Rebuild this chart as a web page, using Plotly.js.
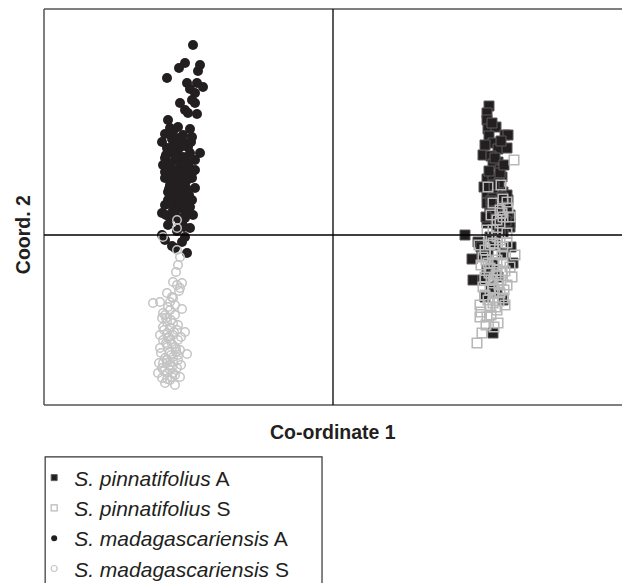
<!DOCTYPE html>
<html>
<head>
<meta charset="utf-8">
<script src="https://cdn.plot.ly/plotly-3.0.1.min.js"></script>
<style>html,body{margin:0;padding:0;background:#fff;}#chart{width:622px;height:583px;}</style>
</head>
<body>
<div id="chart"></div>
<script>
// Series names (legend)
var seriesNames = [
  "<i>S. pinnatifolius</i> A",
  "<i>S. pinnatifolius</i> S",
  "<i>S. madagascariensis</i> A",
  "<i>S. madagascariensis</i> S"
];
var xTitle = "Co-ordinate 1";
var yTitle = "Coord. 2";

// S. pinnatifolius A (filled squares)
var pinA_x = [1.56,1.54,1.54,1.55,1.63,1.56,1.72,1.75,1.60,1.65,1.74,1.50,1.58,1.65,1.60,1.67,1.54,1.60,1.69,1.57,1.64,1.54,1.70,1.60,1.75,1.57,1.65,1.72,1.62,1.77,1.67,1.74,1.54,1.74,1.57,1.75,1.54,1.64,1.77,1.70,1.32,1.57,1.45,1.67,1.77,1.55,1.70,1.80,1.39,1.54,1.65,1.40,1.50,1.64,1.52,1.70,1.60,1.48,1.62,1.78,
              1.59,1.68,1.52,1.62,1.71,1.56,1.66,1.61,1.51,1.69,1.58,1.73,1.63,1.53,1.67,1.60,1.49,1.58];
var pinA_y = [1.29,1.22,1.15,1.06,1.08,0.99,1.00,1.00,0.92,0.86,0.87,0.80,0.79,0.73,0.71,0.65,0.56,0.58,0.58,0.48,0.45,0.42,0.43,0.37,0.35,0.28,0.30,0.25,0.22,0.20,0.62,0.40,0.32,0.28,0.22,0.18,0.12,0.10,0.08,0.03,0.00,-0.02,-0.07,0.05,0.12,-0.18,-0.18,-0.28,-0.24,-0.35,-0.42,-0.45,-0.45,-0.58,-0.62,-0.65,-0.98,-0.12,-0.10,-0.12,
              1.12,0.94,0.90,0.77,0.70,0.64,0.52,0.50,0.48,0.38,0.34,0.14,0.16,0.18,0.02,-0.30,-0.20,-0.52];

// S. pinnatifolius S (open squares)
var pinS_x = [1.81,1.55,1.68,1.70,1.60,1.67,1.75,1.74,1.69,1.64,1.67,1.60,1.74,1.58,1.70,1.77,1.54,1.67,1.60,1.74,1.50,1.64,1.77,1.57,1.69,1.79,1.60,1.57,1.67,1.60,1.70,1.47,1.57,1.64,1.47,1.54,1.65,1.49,1.44,1.52,1.62,1.55,1.70,1.63,1.52,1.74,1.58,1.66,1.50,1.72,1.60,1.52,1.48,1.82,1.58,1.70,1.46,
              1.53,1.61,1.69,1.56,1.64,1.72,1.52,1.60,1.68,1.55,1.63,1.48,1.58,1.66,1.53,1.61,1.71,1.57,1.64];
var pinS_y = [0.75,0.48,0.50,0.36,0.32,0.25,0.27,0.33,0.22,0.15,0.12,0.05,0.02,0.20,0.18,0.18,0.05,-0.05,-0.08,-0.08,-0.22,-0.25,-0.32,-0.33,-0.38,-0.42,-0.48,-0.55,-0.58,-0.63,-0.63,-0.70,-0.72,-0.75,-0.82,-0.82,-0.88,-0.98,-1.08,-0.15,-0.18,-0.28,-0.28,-0.40,-0.42,-0.50,-0.45,-0.50,-0.52,-0.70,-0.68,-0.60,-0.30,-0.20,-0.05,-0.12,-0.10,
              -0.25,-0.28,-0.20,-0.38,-0.35,-0.36,-0.45,-0.53,-0.45,-0.65,-0.72,-0.77,-0.80,-0.66,-0.90,-0.92,-0.55,-0.10,-0.02];

// S. madagascariensis A (filled circles)
var madA_x = [-1.40,-1.48,-1.54,-1.33,-1.35,-1.66,-1.46,-1.36,-1.30,-1.43,-1.38,-1.41,-1.53,-1.38,-1.48,-1.45,-1.36,-1.65,-1.55,-1.43,-1.60,-1.68,-1.41,-1.53,-1.61,-1.71,-1.48,-1.56,-1.66,-1.65,-1.55,-1.43,-1.33,-1.61,-1.68,-1.56,-1.48,-1.63,-1.51,-1.41,-1.68,-1.58,-1.68,-1.41,-1.55,-1.38,-1.65,-1.51,-1.41,-1.46,-1.68,-1.55,-1.71,-1.48,-1.55,-1.48,-1.43,-1.71,-1.48,-1.51,-1.61,-1.46,-1.68,-1.58,-1.58,-1.50,-1.63,-1.45,-1.55,-1.47,-1.61,-1.48,-1.58,-1.53,-1.61,-1.45,-1.57,-1.63,-1.51,-1.65,-1.53,-1.60,-1.43,-1.51,-1.38,-1.70,-1.57,-1.45,-1.50,-1.63,-1.38,-1.51,-1.58,-1.65,
              -1.60,-1.50,-1.42,-1.67,-1.57,-1.47,-1.62,-1.52,-1.44,-1.66,-1.56,-1.46,-1.60,-1.50,-1.64,-1.54,-1.44,-1.59,-1.49,-1.62,-1.52,-1.57,-1.47,-1.67,-1.40,-1.58,-1.53,-1.63,-1.49,-1.56];
var madA_y = [1.90,1.72,1.67,1.70,1.64,1.57,1.52,1.52,1.48,1.46,1.42,1.35,1.32,1.32,1.25,1.22,1.21,1.15,1.08,1.06,1.03,1.01,0.98,0.97,0.96,0.93,0.92,0.90,0.87,0.85,0.85,0.82,0.82,0.82,0.77,0.75,0.73,0.68,0.67,0.62,0.63,0.60,0.57,0.57,0.53,0.47,0.43,0.40,0.35,0.33,0.30,0.27,0.22,0.23,0.17,0.17,0.07,0.00,-0.02,-0.07,-0.11,-0.18,-0.05,-0.13,0.80,0.78,0.72,0.70,0.65,0.60,0.55,0.50,0.47,0.43,0.38,0.45,0.35,0.50,0.57,0.35,0.30,0.25,0.28,0.70,0.65,0.70,0.95,0.88,1.00,1.07,0.75,0.13,0.23,0.10,
              0.90,0.89,0.93,0.80,0.78,0.76,0.70,0.69,0.68,0.62,0.64,0.55,0.52,0.51,0.46,0.45,0.40,0.40,0.37,0.33,0.32,0.28,0.25,0.20,0.20,0.19,0.12,0.17,0.08,0.04];

// S. madagascariensis S (open circles)
var madS_x = [-1.56,-1.56,-1.70,-1.56,-1.53,-1.55,-1.60,-1.56,-1.51,-1.53,-1.66,-1.61,-1.80,-1.73,-1.63,-1.60,-1.63,-1.51,-1.70,-1.71,-1.66,-1.60,-1.70,-1.63,-1.56,-1.73,-1.66,-1.60,-1.48,-1.70,-1.63,-1.55,-1.66,-1.58,-1.73,-1.53,-1.63,-1.46,-1.68,-1.60,-1.55,-1.66,-1.61,-1.71,-1.56,-1.75,-1.66,-1.60,-1.53,-1.71,-1.63,-1.58,-1.68,-1.57,-1.67,-1.58,-1.65,-1.57,-1.70,-1.63,
              -1.65,-1.58,-1.68,-1.62,-1.55,-1.69,-1.59,-1.64,-1.52,-1.67,-1.61,-1.57,-1.72,-1.62,-1.55,-1.66,-1.60,-1.52,-1.69,-1.63,-1.58,-1.74,-1.61,-1.66,-1.54];
var madS_y = [0.15,0.07,-0.02,-0.15,-0.22,-0.30,-0.47,-0.50,-0.48,-0.53,-0.58,-0.62,-0.68,-0.67,-0.67,-0.63,-0.75,-0.74,-0.78,-0.83,-0.87,-0.88,-0.92,-0.93,-0.95,-1.00,-0.98,-1.00,-0.97,-1.05,-1.05,-1.05,-1.10,-1.12,-1.13,-1.15,-1.17,-1.19,-1.23,-1.22,-1.25,-1.28,-1.32,-1.33,-1.33,-1.38,-1.38,-1.38,-1.42,-1.43,-1.45,-1.50,-1.48,-0.37,-0.83,-0.80,-1.03,-1.17,-1.28,-1.30,
              -0.72,-0.70,-0.80,-0.85,-0.90,-0.95,-0.97,-1.02,-1.02,-1.08,-1.09,-1.14,-1.18,-1.20,-1.20,-1.25,-1.27,-1.30,-1.36,-1.35,-1.40,-1.28,-1.42,-1.44,-0.56];

var xRange = [-2.89, 2.89];
var yRange = [-1.70, 2.26];

var dark = '#231f20';
var greyS = '#b8b8b8';
var greyC = '#c4c4c4';

var traces = [
  {x: pinA_x, y: pinA_y, type: 'scatter', mode: 'markers', showlegend: false, hoverinfo: 'skip',
   marker: {symbol: 'square', size: 10, color: dark, line: {color: '#5a5a5a', width: 1}}},
  {x: pinS_x, y: pinS_y, type: 'scatter', mode: 'markers', showlegend: false, hoverinfo: 'skip',
   marker: {symbol: 'square-open', size: 9.5, color: greyS, line: {color: greyS, width: 1.6}}},
  {x: madA_x, y: madA_y, type: 'scatter', mode: 'markers', showlegend: false, hoverinfo: 'skip',
   marker: {symbol: 'circle', size: 10, color: dark, line: {width: 0}}},
  {x: madS_x, y: madS_y, type: 'scatter', mode: 'markers', showlegend: false, hoverinfo: 'skip',
   marker: {symbol: 'circle-open', size: 8.5, color: greyC, line: {color: greyC, width: 1.5}}}
];

// legend-only entries (smaller symbols like the reference legend)
var legendStyles = [
  {symbol: 'square', size: 6, color: dark, line: {color: '#5a5a5a', width: 1}},
  {symbol: 'square-open', size: 6, color: greyS, line: {color: greyS, width: 1.2}},
  {symbol: 'circle', size: 6, color: dark, line: {width: 0}},
  {symbol: 'circle-open', size: 6, color: greyC, line: {color: greyC, width: 1.2}}
];
for (var i = 0; i < seriesNames.length; i++) {
  traces.push({x: [null], y: [null], type: 'scatter', mode: 'markers', name: seriesNames[i],
    legendgroup: 'g' + i, showlegend: true, marker: legendStyles[i]});
}

var frameColor = '#555555';
var layout = {
  width: 622, height: 583,
  margin: {l: 44, r: 0, t: 9, b: 178, pad: 0, autoexpand: false},
  paper_bgcolor: '#ffffff', plot_bgcolor: '#ffffff',
  font: {family: 'Liberation Sans, Arial, sans-serif', color: dark},
  showlegend: true,
  xaxis: {range: xRange, showgrid: false, zeroline: false, showticklabels: false, ticks: '', showline: false, fixedrange: true},
  yaxis: {range: yRange, showgrid: false, zeroline: false, showticklabels: false, ticks: '', showline: false, fixedrange: true},
  legend: {
    x: -0.017, xanchor: 'left', y: -0.1325, yanchor: 'top',
    bgcolor: 'rgba(0,0,0,0)', borderwidth: 0,
    font: {size: 21, color: dark, family: 'Liberation Sans, Arial, sans-serif'},
    tracegroupgap: 0, itemsizing: 'trace'
  },
  shapes: [
    {type: 'line', xref: 'paper', yref: 'paper', x0: 0, x1: 0, y0: 0, y1: 1, line: {color: frameColor, width: 1.5}},
    {type: 'line', xref: 'paper', yref: 'paper', x0: 0, x1: 1, y0: 1, y1: 1, line: {color: frameColor, width: 1.5}},
    {type: 'line', xref: 'paper', yref: 'paper', x0: 0, x1: 1, y0: 0, y1: 0, line: {color: frameColor, width: 1.5}},
    {type: 'line', xref: 'x', yref: 'paper', x0: 0, x1: 0, y0: 0, y1: 1, layer: 'above', line: {color: '#000', width: 1.3}},
    {type: 'line', xref: 'paper', yref: 'y', x0: 0, x1: 1, y0: 0, y1: 0, layer: 'above', line: {color: '#000', width: 1.3}},
    {type: 'rect', xref: 'paper', yref: 'paper', x0: 0.002, x1: 0.481, y0: -0.131, y1: -0.48, line: {color: '#333', width: 1.2}, fillcolor: 'rgba(0,0,0,0)'}
  ],
  annotations: [
    {text: '<b>' + xTitle + '</b>', xref: 'paper', yref: 'paper', x: 0.5, y: -0.068, xanchor: 'center', yanchor: 'middle', showarrow: false, font: {size: 19.5, color: dark}},
    {text: '<b>' + yTitle + '</b>', xref: 'paper', yref: 'y', x: -0.036, y: 0, xanchor: 'center', yanchor: 'middle', textangle: -90, showarrow: false, font: {size: 19.5, color: dark}}
  ]
};

Plotly.newPlot('chart', traces, layout, {staticPlot: true, displayModeBar: false});
</script>
</body>
</html>
